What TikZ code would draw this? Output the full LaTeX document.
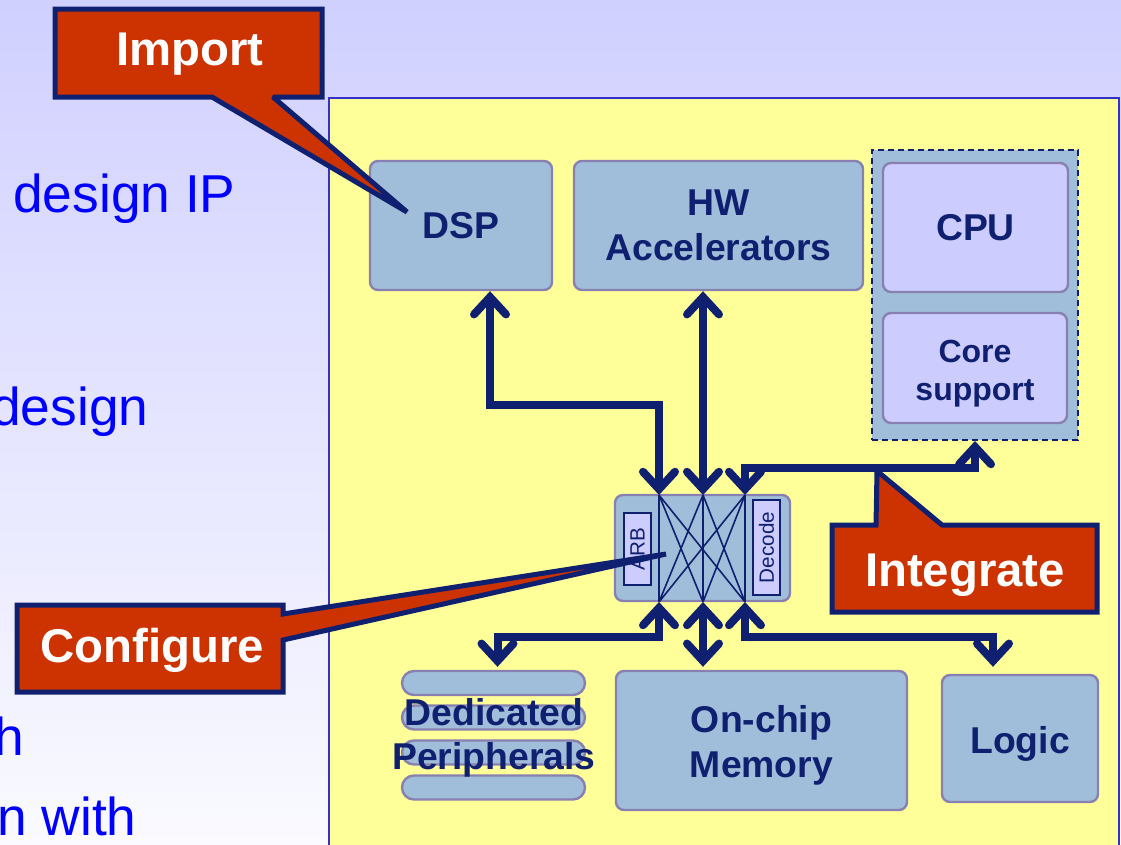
\documentclass[tikz,border=0pt]{standalone}
\usepackage{fontspec}
\setmainfont{Liberation Sans}
\usetikzlibrary{arrows.meta,calc}

\definecolor{bgtop}{RGB}{208,208,255}
\definecolor{bgbot}{RGB}{250,250,255}
\definecolor{panelfill}{RGB}{255,255,153}
\definecolor{panelline}{RGB}{51,51,204}
\definecolor{navy}{RGB}{16,32,112}
\definecolor{blkfill}{RGB}{160,190,217}
\definecolor{blkline}{RGB}{136,128,176}
\definecolor{lav}{RGB}{204,204,255}
\definecolor{calred}{RGB}{204,51,0}
\definecolor{slideblue}{RGB}{0,0,255}

\begin{document}
\begin{tikzpicture}[x=0.75pt,y=-0.75pt,
  blk/.style={draw=blkline, fill=blkfill, line width=1.8pt, rounded corners=6pt,
    text=navy, align=center, inner sep=0pt,
    font=\bfseries\fontsize{28}{34}\selectfont},
  cpublk/.style={blk, fill=lav},
  blktext/.style={text=navy, align=center, inner sep=0pt,
    font=\bfseries\fontsize{28}{34}\selectfont},
  pill/.style={draw=blkline, fill=blkfill, line width=1.8pt,
    rounded corners=9pt, minimum width=137.25pt, minimum height=18pt, inner sep=0pt},
  tag/.style={draw=navy, fill=lav, line width=1.2pt, rotate=90, inner sep=0pt,
    text=navy, font=\fontsize{15.5}{17}\selectfont},
  xline/.style={draw=navy, line width=1.2pt},
  bus/.style={draw=navy, line width=6pt,
    {Straight Barb[length=13pt,width=24pt,line cap=round,line join=miter]}-%
    {Straight Barb[length=13pt,width=24pt,line cap=round,line join=miter]}},
  callout/.style={fill=calred, draw=navy, line width=3.75pt, miter limit=2},
  callouttext/.style={text=white, font=\bfseries\fontsize{35.5}{40}\selectfont, inner sep=0pt},
  slidetext/.style={text=slideblue, font=\fontsize{40}{44}\selectfont, inner sep=0pt}
]
\useasboundingbox (0,0) rectangle (1121,844);
\clip (0,0) rectangle (1121,844);

% slide background and the chip panel
\fill[top color=bgtop, bottom color=bgbot] (0,0) rectangle (1121,844);
\draw[draw=panelline, line width=1.5pt, fill=panelfill] (329,98) rectangle (1119,870);

% bullet text at the left edge of the slide
\node[slidetext, anchor=base west] (t1) at (13,212) {design IP};
\node[slidetext, anchor=base west] (t2) at (-9,425) {design};
\node[slidetext, anchor=base east] (t3) at (24,755) {h};
\node[slidetext, anchor=base west] (t4) at (-3,835) {n with};

% top row of blocks
\node[blk, minimum width=136.5pt, minimum height=96.75pt] (dsp) at (461,225.5) {DSP};
\node[blk, minimum width=216.75pt, minimum height=96.75pt] (hw) at (718.5,225.5) {HW\\Accelerators};
\node[draw=navy, fill=blkfill, line width=1.5pt, dash pattern=on 4.5pt off 3pt,
      minimum width=154.5pt, minimum height=217.5pt, inner sep=0pt] (grp) at (975,295) {};
\node[cpublk, minimum width=138.75pt, minimum height=96.75pt] (cpu) at (975.5,227.5) {CPU};
\node[cpublk, minimum width=138pt, minimum height=82.5pt] (core) at (975,368) {};
\node[blktext, font=\bfseries\fontsize{24}{28.5}\selectfont] (coretxt)
      at ($(core.center)+(0,6)$) {Core\\support};

% crossbar
\node[blk, minimum width=131.25pt, minimum height=79.5pt] (xbar) at (702.5,548) {};
\node[tag, minimum width=54pt, minimum height=20.25pt] (arb) at (637.5,549) {ARB};
\node[tag, minimum width=71.25pt, minimum height=20.25pt] (dec) at (766.5,547.5) {Decode};
\coordinate (xt1) at (659,495);
\coordinate (xt2) at (703,495);
\coordinate (xt3) at (745,495);
\coordinate (xb1) at (659,602);
\coordinate (xb2) at (703,602);
\coordinate (xb3) at (745,602);
\draw[xline] (xt1)--(xb1) (xt2)--(xb2) (xt3)--(xb3)
             (xt1)--(xb2) (xt1)--(xb3) (xt2)--(xb1)
             (xt2)--(xb3) (xt3)--(xb1) (xt3)--(xb2);

% bottom row of blocks
\node[pill] (per1) at (493.5,683) {};
\node[pill] (per2) at (493.5,717.5) {};
\node[pill] (per3) at (493.5,752.5) {};
\node[pill] (per4) at (493.5,787.5) {};
\node[blktext, font=\bfseries\fontsize{28}{33}\selectfont] (per) at (494,738) {Dedicated\\Peripherals};
\node[blk, minimum width=218.25pt, minimum height=104.25pt] (mem) at (761.5,740.5) {};
\node[blktext] (memtxt) at ($(mem.center)+(0,5)$) {On-chip\\Memory};
\node[blk, minimum width=117pt, minimum height=95.25pt] (logic) at (1020,738.5) {};
\node[blktext] (logictxt) at ($(logic.center)+(0,5)$) {Logic};

% buses between the blocks and the crossbar
\draw[bus] ($(dsp.south)+(29,0)$) -- ++(0,114) -| (xt1);
\draw[bus] (xt2 |- hw.south) -- (xt2);
\draw[bus] (xt3) -- ++(0,-27) -| (grp.south);
\draw[bus] (xb1) -- ++(0,35) -| ($(per1.north)+(4,-3)$);
\draw[bus] (xb2) -- ($(xb2 |- mem.north)+(0,-3)$);
\draw[bus] (xb3) -- ++(0,35) -| ($(logic.north)+(-27,-7)$);

% callouts
\draw[callout] (55,9) -- (322,9) -- (322,97) -- (273,97) -- (407,212)
               -- (212,97) -- (55,97) -- cycle;
\node[callouttext, anchor=base] (imp) at (190,65) {Import};

\draw[callout] (17,605) -- (283,605) -- (283,614) -- (666,554)
               -- (283,640) -- (283,692) -- (17,692) -- cycle;
\node[callouttext, anchor=base] (cfg) at (152,662) {Configure};

\draw[callout] (832,525) -- (876,525) -- (877,471) -- (942,525)
               -- (1097,525) -- (1097,612) -- (832,612) -- cycle;
\node[callouttext, anchor=base] (int) at (965,586) {Integrate};
\end{tikzpicture}
\end{document}
